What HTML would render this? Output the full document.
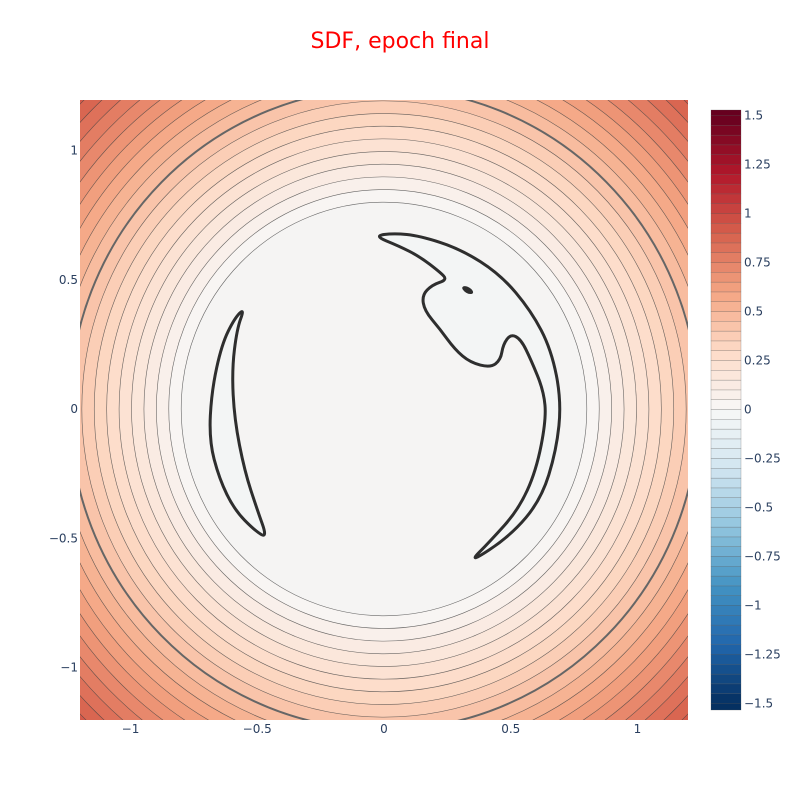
<!DOCTYPE html>
<html><head><meta charset="utf-8"><style>
html,body{margin:0;padding:0;background:#fff;overflow:hidden;width:800px;height:800px;}
svg{display:block;}
svg text{font-family:"DejaVu Sans","Liberation Sans",sans-serif;}
</style></head><body>
<svg id="chart" width="800" height="800" xmlns="http://www.w3.org/2000/svg">
<defs><clipPath id="plotclip"><rect x="80" y="100" width="608" height="620"/></clipPath></defs>
<text x="400" y="48" text-anchor="middle" font-size="22" fill="#ff0000">SDF, epoch final</text>
<g id="plot" clip-path="url(#plotclip)"></g>
<g id="shapes"></g>
<g id="axes"></g>
<g id="cbar"></g>
</svg>
<script>
const xTicks=[-1,-0.5,0,0.5,1];
const xTickLabels=["−1","−0.5","0","0.5","1"];
const yTicks=[-1,-0.5,0,0.5,1];
const yTickLabels=["−1","−0.5","0","0.5","1"];
const cbTicks=[-1.5,-1.25,-1,-0.75,-0.5,-0.25,0,0.25,0.5,0.75,1,1.25,1.5];
const cbTickLabels=["−1.5","−1.25","−1","−0.75","−0.5","−0.25","0","0.25","0.5","0.75","1","1.25","1.5"];
const levelStep=0.05;
const maxLevel=1.0;
const innerRadius=0.8;
const radiusPerUnit=0.98;
const boldLevel=0.45;
const leftShapeX=[-0.55,-0.58,-0.60,-0.59,-0.55,-0.50,-0.46,-0.51,-0.59,-0.65,-0.69,-0.68,-0.64,-0.59];
const leftShapeY=[0.39,0.31,0.15,-0.04,-0.24,-0.39,-0.50,-0.47,-0.39,-0.27,-0.12,0.07,0.25,0.35];
const rightShapeX=[-0.04,0.04,0.14,0.30,0.46,0.58,0.66,0.70,0.68,0.62,0.50,0.33,0.42,0.53,0.60,0.64,0.63,0.58,0.54,0.50,0.47,0.46,0.42,0.34,0.28,0.22,0.16,0.15,0.19,0.25,0.22,0.14,0.06];
const rightShapeY=[0.67,0.68,0.67,0.62,0.52,0.38,0.23,0.03,-0.16,-0.35,-0.49,-0.60,-0.51,-0.39,-0.24,-0.04,0.07,0.19,0.27,0.29,0.25,0.19,0.16,0.18,0.23,0.31,0.38,0.44,0.48,0.50,0.53,0.59,0.63];

const X=v=>384+v*253.5, Y=v=>409-v*258.5, CB=v=>409.5-v*196;
const R=L=>innerRadius+L*radiusPerUnit;
const NS="http://www.w3.org/2000/svg";
function mk(tag,attrs,parent){const e=document.createElementNS(NS,tag);for(const k in attrs)e.setAttribute(k,attrs[k]);parent.appendChild(e);return e;}
const stops=[[0,[5,48,97]],[0.1,[33,102,172]],[0.2,[67,147,195]],[0.3,[146,197,222]],[0.4,[209,229,240]],[0.5,[247,247,247]],[0.6,[253,219,199]],[0.7,[244,165,130]],[0.8,[214,96,77]],[0.9,[178,24,43]],[1,[103,0,31]]];
function color(v){let t=Math.max(0,Math.min(1,(v+1.5)/3));for(let i=1;i<stops.length;i++){if(t<=stops[i][0]){const a=stops[i-1],b=stops[i],f=(t-a[0])/(b[0]-a[0]);return 'rgb('+a[1].map((c,j)=>Math.round(c+(b[1][j]-c)*f)).join(',')+')';}}return 'rgb(103,0,31)';}
const plot=document.getElementById('plot');
const bg=mk('rect',{x:80,y:100,width:608,height:620,fill:color(maxLevel+levelStep/2)},plot);


const nL=Math.round(maxLevel/levelStep);
for(let i=nL;i>=0;i--){
  const L=i*levelStep, r=R(L);
  const e=mk('ellipse',{cx:X(0),cy:Y(0),rx:r*253.5,ry:r*258.5,fill:color(L-levelStep/2)},plot);
  
  
}
const inner=mk('ellipse',{cx:X(0),cy:Y(0),rx:innerRadius*253.5,ry:innerRadius*258.5,fill:'#f5f4f3'},plot);


for(let i=0;i<=nL;i++){
  const L=i*levelStep, r=R(L);
  const bold=Math.abs(L-boldLevel)<1e-6;
  const c=mk('ellipse',{cx:X(0),cy:Y(0),rx:r*253.5,ry:r*258.5,fill:'none',stroke:bold?'#666':'#444','stroke-width':bold?2:0.6,'stroke-opacity':bold?1:0.8},plot);
  
  
}
function smoothPath(xs,ys){const n=xs.length;const p=xs.map((x,i)=>[X(x),Y(ys[i])]);let d='';for(let i=0;i<n;i++){const a=p[i],b=p[(i+1)%n];const m=[(a[0]+b[0])/2,(a[1]+b[1])/2];if(i===0){const z=p[n-1];d+='M'+((z[0]+a[0])/2)+','+((z[1]+a[1])/2);}d+=' Q'+a[0]+','+a[1]+' '+m[0]+','+m[1];}return d+'Z';}
const sh=document.getElementById('shapes');
const s1=mk('path',{d:smoothPath(leftShapeX,leftShapeY),fill:'#f3f5f5',stroke:'#2e2e2e','stroke-width':3,'stroke-linejoin':'round'},sh);


const s2=mk('path',{d:smoothPath(rightShapeX,rightShapeY),fill:'#f3f5f5',stroke:'#2e2e2e','stroke-width':3,'stroke-linejoin':'round'},sh);


const s3=mk('ellipse',{cx:X(0.33),cy:Y(0.46),rx:6,ry:3,fill:'#2e2e2e',transform:'rotate(30 '+X(0.33)+' '+Y(0.46)+')'},sh);


const ax=document.getElementById('axes');
xTicks.forEach((v,i)=>{const t=mk('text',{x:X(v),y:733,'text-anchor':'middle','font-size':12,fill:'#2a3f5f'},ax);t.textContent=xTickLabels[i];

});
yTicks.forEach((v,i)=>{const t=mk('text',{x:78,y:Y(v)+4,'text-anchor':'end','font-size':12,fill:'#2a3f5f'},ax);t.textContent=yTickLabels[i];

});
const cb=document.getElementById('cbar');
for(let v=-1.55;v<1.55-1e-9;v+=levelStep){
  const y0=Math.max(110,CB(v+levelStep)), y1=Math.min(710,CB(v));
  if(y1<=y0)continue;
  const r=mk('rect',{x:711,y:y0,width:30,height:y1-y0,fill:color(v+levelStep/2),stroke:'#555','stroke-width':0.4,'stroke-opacity':0.6},cb);
  
  
}
cbTicks.forEach((v,i)=>{const t=mk('text',{x:744,y:CB(v)+4,'font-size':12,fill:'#2a3f5f'},cb);t.textContent=cbTickLabels[i];

});
</script>
</body></html>
